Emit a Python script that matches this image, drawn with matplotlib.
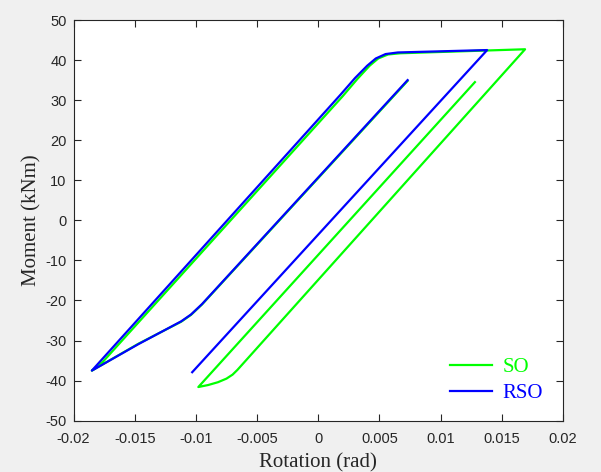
import matplotlib
matplotlib.use("Agg")
import matplotlib.pyplot as plt

plt.rcParams["axes.unicode_minus"] = False

# SO (green) moment-rotation path
so_rot = [0.0073, -0.0095, -0.0104, -0.0112, -0.0147, -0.0185, -0.0176, 0.0020,
          0.0032, 0.0042, 0.0049, 0.0057, 0.0067, 0.0169, -0.0066, -0.0070,
          -0.0075, -0.0082, -0.0090, -0.0098, 0.0128]
so_mom = [34.8, -21.0, -23.6, -25.3, -30.8, -37.5, -35.3, 31.0,
          35.3, 38.6, 40.4, 41.4, 41.7, 42.7, -37.3, -38.5,
          -39.5, -40.4, -41.1, -41.6, 34.5]

# RSO (blue) moment-rotation path
rso_rot = [0.0073, -0.0095, -0.0104, -0.0112, -0.0147, -0.0185, 0.0018,
           0.0030, 0.0040, 0.0047, 0.0055, 0.0065, 0.0138, -0.0103]
rso_mom = [35.0, -20.9, -23.5, -25.2, -30.9, -37.5, 31.3,
           35.5, 38.6, 40.4, 41.5, 41.9, 42.5, -37.9]

xticks = [-0.02, -0.015, -0.01, -0.005, 0, 0.005, 0.01, 0.015, 0.02]
xticklabels = ["-0.02", "-0.015", "-0.01", "-0.005", "0", "0.005", "0.01", "0.015", "0.02"]
yticks = [-50, -40, -30, -20, -10, 0, 10, 20, 30, 40, 50]

fig = plt.figure(figsize=(6.01, 4.72), dpi=100, facecolor="#f0f0f0")
ax = fig.add_axes([0.1223, 0.1087, 0.8145, 0.8489])
ax.set_facecolor("white")

ax.plot(so_rot, so_mom, color=(0, 1, 0), lw=1.6, label="SO")
ax.plot(rso_rot, rso_mom, color=(0, 0, 1), lw=1.6, label="RSO")

ax.set_xlim(-0.02, 0.02)
ax.set_ylim(-50, 50)
ax.set_xticks(xticks)
ax.set_xticklabels(xticklabels)
ax.set_yticks(yticks)

tickfont = "Liberation Sans"
for lab in ax.get_xticklabels() + ax.get_yticklabels():
    lab.set_fontfamily(tickfont)
    lab.set_fontsize(10.5)
    lab.set_color("#262626")

ax.tick_params(direction="in", top=True, right=True, length=5, width=0.8,
               color="#262626")
ax.tick_params(axis="x", pad=8)
ax.tick_params(axis="y", pad=5)
for sp in ax.spines.values():
    sp.set_color("#262626")
    sp.set_linewidth(0.8)

ax.set_xlabel("Rotation (rad)", fontfamily="Liberation Serif", fontsize=15,
              color="#262626", labelpad=5)
ax.set_ylabel("Moment (kNm)", fontfamily="Liberation Serif", fontsize=15,
              color="#262626", labelpad=3)

leg = ax.legend(loc="lower right", bbox_to_anchor=(0.997, -0.0025), frameon=False,
                prop={"family": "Liberation Serif", "size": 15},
                handlelength=2.0, handletextpad=0.5, labelspacing=0.3,
                labelcolor="linecolor")

fig.savefig("out.png", dpi=100, facecolor=fig.get_facecolor())
